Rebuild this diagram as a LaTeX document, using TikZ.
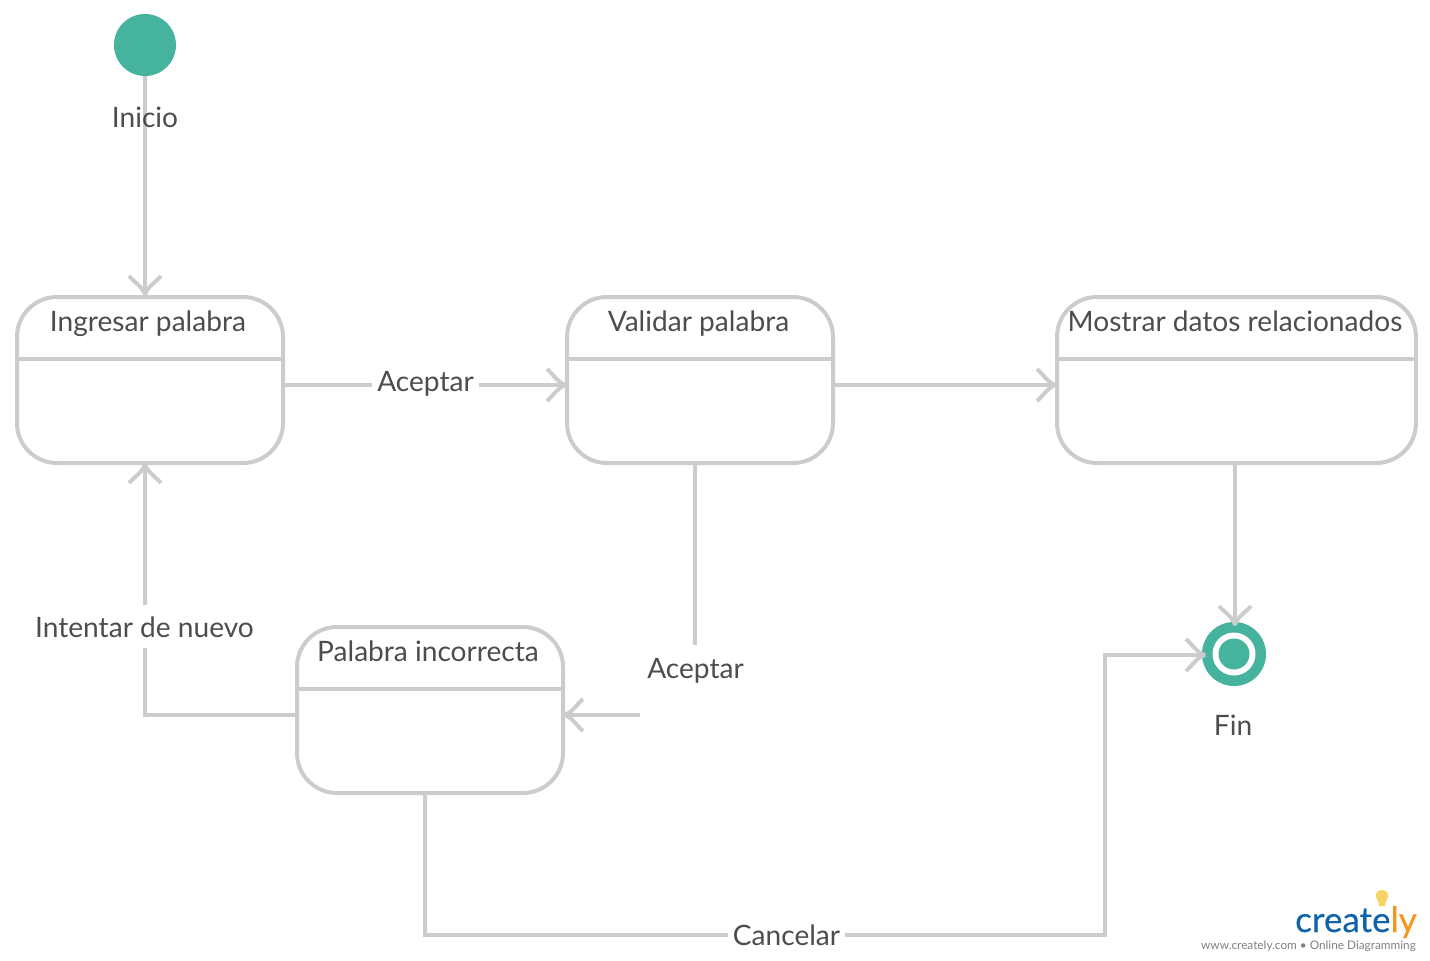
\documentclass[tikz,border=0pt]{standalone}
\usepackage{fontspec}
\setmainfont{Lato}
\usetikzlibrary{arrows.meta}
\definecolor{edge}{HTML}{CCCCCC}
\definecolor{ink}{HTML}{4D4D4D}
\definecolor{teal}{HTML}{45B39D}
\definecolor{logoblue}{HTML}{0F62AC}
\definecolor{logoorange}{HTML}{F7941E}
\definecolor{bulb}{HTML}{F6D365}
\pgfdeclarearrow{
  name=Flare,
  setup code={
    \pgfarrowssettipend{0pt}
    \pgfarrowssetlineend{-1pt}
    \pgfarrowssetvisualbackend{-19pt}
    \pgfarrowssetbackend{-19pt}
    \pgfarrowshullpoint{0pt}{0pt}
    \pgfarrowshullpoint{-19pt}{16pt}
    \pgfarrowshullpoint{-19pt}{-16pt}
  },
  drawing code={
    \pgfsetlinewidth{4pt}
    \pgfsetbuttcap
    \pgfsetbeveljoin
    \pgfsetdash{}{0pt}
    \pgfpathmoveto{\pgfqpoint{-19pt}{16pt}}
    \pgfpathcurveto{\pgfqpoint{-14pt}{12pt}}{\pgfqpoint{-7pt}{1pt}}{\pgfqpoint{0pt}{0pt}}
    \pgfpathcurveto{\pgfqpoint{-7pt}{-1pt}}{\pgfqpoint{-14pt}{-12pt}}{\pgfqpoint{-19pt}{-16pt}}
    \pgfusepathqstroke
  },
  defaults={}
}
\tikzset{
  statebox/.style={draw=edge,line width=4pt,rounded corners=40pt,inner sep=0pt,outer sep=0pt,minimum height=166pt,fill=white},
  divider/.style={draw=edge,line width=4pt},
  title/.style={text=ink,font=\fontsize{28.1}{32}\selectfont,inner sep=0pt,anchor=base},
  lab/.style={text=ink,font=\fontsize{28.1}{32}\selectfont,inner sep=0pt,anchor=base},
  gap/.style={lab,fill=white,inner xsep=5pt,inner ysep=11pt},
  conn/.style={draw=edge,line width=4pt,-{Flare}},
  plain/.style={draw=edge,line width=4pt},
}
\begin{document}
\begin{tikzpicture}[x=1pt,y=-1pt]
\useasboundingbox (0,0) rectangle (1430,961);
% initial and final
\node[circle,fill=teal,minimum size=62pt,inner sep=0pt,outer sep=0pt] (start) at (145,45) {};
\node[circle,fill=teal,minimum size=64pt,inner sep=0pt,outer sep=0pt] (fin) at (1234,654) {};
\node[circle,fill=white,minimum size=43pt,inner sep=0pt] (finring) at (1234,654) {};
\node[circle,fill=teal,minimum size=31pt,inner sep=0pt] (findot) at (1234,654) {};
% states
\node[statebox,minimum width=266pt] (ingresar) at (150,380) {};
\node[statebox,minimum width=266pt] (validar) at (700,380) {};
\node[statebox,minimum width=359pt] (mostrar) at (1236.5,380) {};
\node[statebox,minimum width=266pt] (incorrecta) at (430,710) {};
\draw[divider] (17,359) -- (283,359);
\draw[divider] (567,359) -- (833,359);
\draw[divider] (1057,359) -- (1416,359);
\draw[divider] (297,689) -- (563,689);
\node[title] (t1) at (148,331) {Ingresar palabra};
\node[title] (t2) at (698.5,331) {Validar palabra};
\node[title] (t3) at (1235,331) {Mostrar datos relacionados};
\node[title] (t4) at (428,661) {Palabra incorrecta};
% connectors
\coordinate (a1) at (145,295);
\draw[conn] (start.south) -- (a1);
\node[lab] (linicio) at (145,127) {Inicio};
\coordinate (b0) at (283,385);
\coordinate (b1) at (566,385);
\draw[conn] (b0) -- (b1);
\node[gap] (lacept) at (425.5,391) {Aceptar};
\coordinate (c0) at (833,385);
\coordinate (c1) at (1056,385);
\draw[conn] (c0) -- (c1);
\coordinate (d0) at (1235,463);
\coordinate (d1) at (1235,625);
\draw[conn] (d0) -- (d1);
\coordinate (e0) at (695,463);
\coordinate (e1) at (695,645);
\coordinate (e2) at (640,715);
\coordinate (e3) at (564,715);
\draw[plain] (e0) -- (e1);
\draw[conn] (e2) -- (e3);
\node[lab] (lacept2) at (695.5,678) {Aceptar};
\coordinate (f0) at (297,715);
\coordinate (f1) at (145,715);
\coordinate (f2) at (145,464);
\draw[conn] (f0) -- (f1) -- (f2);
\node[gap] (lint) at (144.5,637) {Intentar de nuevo};
\coordinate (g0) at (425,793);
\coordinate (g1) at (425,935);
\coordinate (g2) at (1105,935);
\coordinate (g3) at (1105,655);
\coordinate (g4) at (1205,655);
\draw[conn] (g0) -- (g1) -- (g2) -- (g3) -- (g4);
\node[gap] (lcanc) at (786.5,945) {Cancelar};
\node[lab] (lfin) at (1233,735) {Fin};
% logo
\fill[bulb] (1382,890) .. controls (1377,890) and (1375,894) .. (1376,897) .. controls (1377,900) and (1379,902) .. (1379,906) -- (1385,906) .. controls (1385,902) and (1387,900) .. (1388,897) .. controls (1389,894) and (1387,890) .. (1382,890) -- cycle;
\node[inner sep=0pt,anchor=base east,font=\fontsize{35}{40}\selectfont\addfontfeature{FakeBold=0.3}] (logo) at (1417,932) {\textcolor{logoblue}{create}\textcolor{logoorange}{ly}};
\node[inner sep=0pt,anchor=base east,text=black!50,font=\fontsize{11.8}{14}\selectfont] (tag) at (1416,949) {www.creately.com • Online Diagramming};
\end{tikzpicture}
\end{document}
